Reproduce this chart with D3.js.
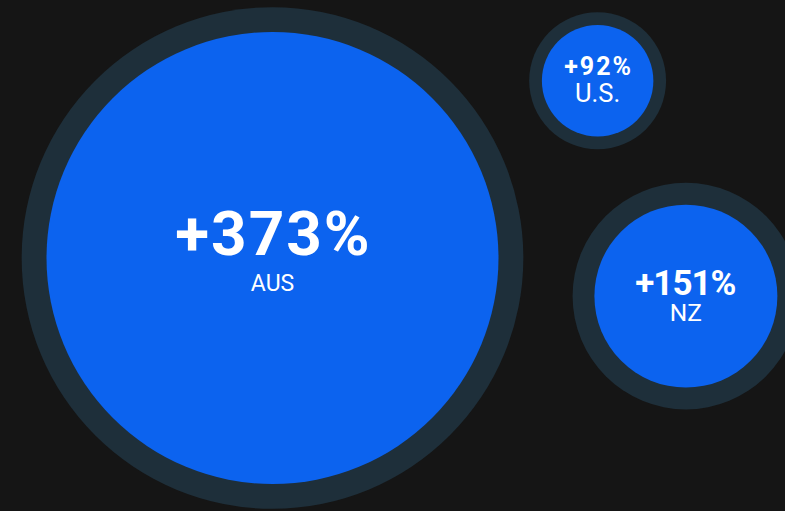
<!DOCTYPE html>
<html>
<head>
<meta charset="utf-8">
<script src="https://cdn.jsdelivr.net/npm/d3@7"></script>
<style>
  html, body { margin: 0; padding: 0; background: #151515; overflow: hidden; }
  svg { display: block; }
  text { font-family: Roboto, "Noto Sans", sans-serif; fill: #fff; text-anchor: middle; }
</style>
</head>
<body>
<svg id="chart"></svg>
<script>
// data
const regions = ["AUS", "U.S.", "NZ"];
const growth = [373, 92, 151];        // % change, inner circle
const reference = [414, 113, 187];    // outer ring, same units

const width = 785, height = 511;
const svg = d3.select("#chart").attr("width", width).attr("height", height);

const r = d3.scaleLinear().domain([0, 373]).range([0, 226]);
const valueSize = d3.scaleLinear().domain([92, 151, 373]).range([25, 35, 62]);
const valueDy = d3.scaleLinear().domain([92, 151, 373]).range([-6, -1, -3]);
const labelSize = d3.scaleLinear().domain([92, 151, 373]).range([25.5, 24.5, 23]);

// pack the outer rings with a gap, then turn the group to sit like the original
const gap = 25.5;
const nodes = regions.map((name, i) => ({
  name,
  value: growth[i],
  outer: r(reference[i]),
  inner: r(growth[i]),
  r: r(reference[i]) + gap
}));
d3.packSiblings(nodes);

const anchor = [272.5, 258];
const tilt = -28.6 * Math.PI / 180;
const a0 = nodes[0];
const turn = tilt - Math.atan2(nodes[1].y - a0.y, nodes[1].x - a0.x);
nodes.forEach(d => {
  const dx = d.x - a0.x, dy = d.y - a0.y;
  d.cx = anchor[0] + dx * Math.cos(turn) - dy * Math.sin(turn);
  d.cy = anchor[1] + dx * Math.sin(turn) + dy * Math.cos(turn);
});

const g = svg.selectAll(".bubble")
  .data(nodes)
  .enter().append("g")
  .attr("class", "bubble")
  .attr("transform", d => `translate(${d.cx},${d.cy})`);

g.append("circle")
  .attr("r", d => d.outer)
  .attr("fill", "#1e2f3a");

g.append("circle")
  .attr("r", d => d.inner)
  .attr("fill", "#0c63ef");

// the original face has narrow "1"s and otherwise wider figures than Roboto
const spacing = s => 2 - 1.5 * (s.match(/1/g) || []).length;

g.append("text")
  .attr("y", d => valueDy(d.value))
  .attr("font-weight", 700)
  .attr("font-size", d => valueSize(d.value))
  .attr("letter-spacing", d => spacing(String(d.value)))
  .attr("dx", d => spacing(String(d.value)) / 2)
  .text(d => "+" + d.value + "%");

g.append("text")
  .attr("y", d => valueSize(d.value) * 0.3 + 14)
  .attr("font-weight", 400)
  .attr("font-size", d => labelSize(d.value))
  .text(d => d.name);
</script>
</body>
</html>
